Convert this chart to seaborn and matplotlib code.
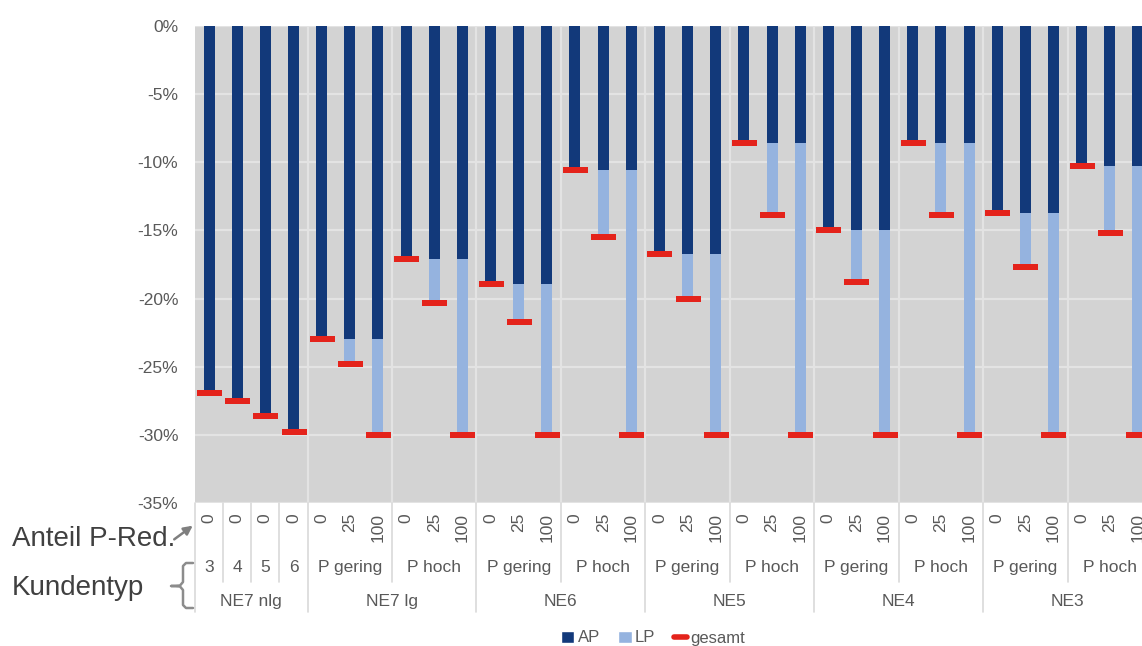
import itertools
import matplotlib
matplotlib.use("Agg")
import matplotlib.pyplot as plt
from matplotlib.patches import Patch
from matplotlib.lines import Line2D
from matplotlib.path import Path
from matplotlib.ticker import FuncFormatter
import seaborn as sns
import pandas as pd

###############################################################################
# Data (values in %)
###############################################################################

gruppe = (["NE7 nlg"] * 4 + ["NE7 lg"] * 6 + ["NE6"] * 6 + ["NE5"] * 6
          + ["NE4"] * 6 + ["NE3"] * 6)
kundentyp = ["3", "4", "5", "6"] + (["P gering"] * 3 + ["P hoch"] * 3) * 5
anteil = ["0"] * 4 + ["0", "25", "100"] * 10

ap = [-26.9, -27.5, -28.6, -29.8,
      -23.0, -23.0, -23.0, -17.1, -17.1, -17.1,
      -18.9, -18.9, -18.9, -10.6, -10.6, -10.6,
      -16.7, -16.7, -16.7, -8.6, -8.6, -8.6,
      -15.0, -15.0, -15.0, -8.6, -8.6, -8.6,
      -13.7, -13.7, -13.7, -10.3, -10.3, -10.3]

gesamt = [-26.9, -27.5, -28.6, -29.8,
          -23.0, -24.8, -30.0, -17.1, -20.3, -30.0,
          -18.9, -21.7, -30.0, -10.6, -15.5, -30.0,
          -16.7, -20.0, -30.0, -8.6, -13.9, -30.0,
          -15.0, -18.8, -30.0, -8.6, -13.9, -30.0,
          -13.7, -17.7, -30.0, -10.3, -15.2, -30.0]

df = pd.DataFrame({"pos": range(len(ap)), "ap": ap, "gesamt": gesamt})

# colours
AP_COL = "#12397A"
LP_COL = "#95B3DF"
RED = "#E4231B"
BG = "#D3D3D3"
GRID = "#E3E3E3"
SEP = "#D9D9D9"
TXT = "#595959"

###############################################################################
# Plot
###############################################################################

sns.set_style("white")
plt.rcParams["font.family"] = ["Liberation Sans", "DejaVu Sans"]

fig = plt.figure(figsize=(11.42, 6.46), dpi=100)
# axes run past the right edge of the figure, like the cropped original
ax = fig.add_axes([195 / 1142, 143 / 646, 957 / 1142, 477 / 646])
ax.set_facecolor(BG)
ax.set_axisbelow(True)

# LP drawn as full bar to total, AP drawn over it
sns.barplot(data=df, x="pos", y="gesamt", color=LP_COL, width=0.39,
            saturation=1, errorbar=None, linewidth=0, ax=ax, zorder=2)
sns.barplot(data=df, x="pos", y="ap", color=AP_COL, width=0.39,
            saturation=1, errorbar=None, linewidth=0, ax=ax, zorder=3)

# red dash for total
dash = Path([(-4, -1), (4, -1), (4, 1), (-4, 1), (-4, -1)], closed=True)
sns.scatterplot(data=df, x="pos", y="gesamt", marker=dash, s=18 ** 2,
                color=RED, linewidth=0, ax=ax, zorder=4)

ax.set_xlim(-0.5, len(ap) - 0.5)
ax.set_ylim(-35, 0)
ax.set_yticks(list(range(-35, 1, 5)))
ax.yaxis.set_major_formatter(FuncFormatter(lambda v, p: f"{v:.0f}%"))
ax.set_xticks([])
ax.set_xlabel("")
ax.set_ylabel("")
ax.tick_params(axis="y", length=0, pad=12, labelsize=12.5, labelcolor=TXT)
ax.yaxis.grid(True, color=GRID, lw=1.6)
for s in ax.spines.values():
    s.set_visible(False)

# separators and multi level category labels
xform = ax.get_xaxis_transform()
n = len(ap)
for i in range(1, n):
    grp_change = gruppe[i] != gruppe[i - 1]
    sub_change = kundentyp[i] != kundentyp[i - 1]
    if not (grp_change or sub_change):
        continue
    if grp_change or gruppe[i] != "NE7 nlg":
        ax.axvline(i - 0.5, color=GRID, lw=1.6, zorder=1)
    low = -0.229 if grp_change else -0.166
    ax.plot([i - 0.5, i - 0.5], [0, low], color=SEP, lw=1.2,
            transform=xform, clip_on=False)
for x in (-0.5, n - 0.5):
    ax.plot([x, x], [0, -0.229], color=SEP, lw=1.2, transform=xform, clip_on=False)

for i, a in enumerate(anteil):
    ax.text(i, -0.021, a, rotation=90, ha="center", va="top",
            transform=xform, fontsize=12.5, color=TXT)

pos = list(range(n))
for key, items in itertools.groupby(zip(pos, gruppe, kundentyp), key=lambda t: (t[1], t[2])):
    p = [t[0] for t in items]
    ax.text(sum(p) / len(p), -0.136, key[1], ha="center", va="center",
            transform=xform, fontsize=12.5, color=TXT)
for key, items in itertools.groupby(zip(pos, gruppe), key=lambda t: t[1]):
    p = [t[0] for t in items]
    ax.text(sum(p) / len(p), -0.2075, key, ha="center", va="center",
            transform=xform, fontsize=12.5, color=TXT)

# left side annotations (pixel coords overlay)
ov = fig.add_axes([0, 0, 1, 1])
ov.set_xlim(0, 1142)
ov.set_ylim(646, 0)
ov.axis("off")
ov.patch.set_alpha(0)

ov.text(12, 539, "Anteil P-Red.", fontsize=20, color="#404040", va="center", ha="left")
ov.text(12, 588, "Kundentyp", fontsize=20, color="#404040", va="center", ha="left")
ov.annotate("", xy=(195, 524), xytext=(172, 541),
            arrowprops=dict(arrowstyle="-|>", color="#7F7F7F", lw=1.8, mutation_scale=13))
bx = [193, 186, 183, 183, 180, 171, 180, 183, 183, 186, 193]
by = [563, 563, 566, 582, 585.5, 586, 586.5, 590, 605, 608, 608]
ov.plot(bx, by, color="#8C8C8C", lw=1.8)

handles = [Patch(facecolor=AP_COL), Patch(facecolor=LP_COL),
           Line2D([0], [0], color=RED, lw=4)]
fig.legend(handles, ["AP", "LP", "gesamt"], loc="center",
           bbox_to_anchor=(653 / 1142, 1 - 638 / 646), ncol=3, frameon=False,
           fontsize=12, handlelength=0.8, handleheight=0.7, handletextpad=0.2,
           columnspacing=1.1, labelcolor=TXT)

fig.savefig("out.png", dpi=100)
